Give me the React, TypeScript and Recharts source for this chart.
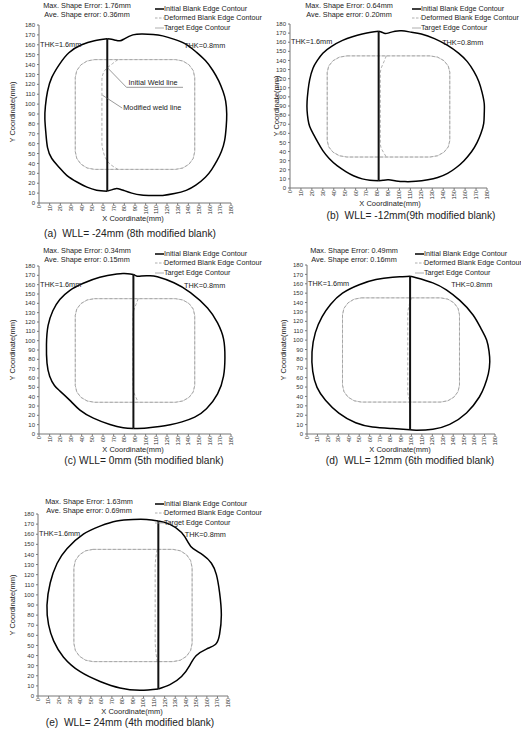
import React from "react";
import { ScatterChart, Scatter, XAxis, YAxis } from "recharts";

type Pt = [number, number];

// tick values shared by both axes of every panel
const axisTicks = [0, 10, 20, 30, 40, 50, 60, 70, 80, 90, 100, 110, 120, 130, 140, 150, 160, 170, 180];

// target edge contour (same target part for every blank)
const targetContour: Pt[] = [
  [52, 145], [128, 145], [134.9, 143.6], [140.7, 139.7], [144.6, 133.9], [146, 127],
  [146, 52], [144.6, 45.1], [140.7, 39.3], [134.9, 35.4], [128, 34],
  [52, 34], [45.1, 35.4], [39.3, 39.3], [35.4, 45.1], [34, 52],
  [34, 127], [35.4, 133.9], [39.3, 139.7], [45.1, 143.6], [52, 145],
];

// (a) WLL = -24mm
const weldA: Pt[] = [[64, 166], [64, 12]];
const blankLeftA: Pt[] = [
  [64, 166], [52, 164], [40, 160], [28, 152], [19, 140], [12, 127], [8, 113], [6, 98], [5.5, 85],
  [6.5, 70], [8, 56], [12, 45], [19, 36], [26, 28], [36, 21], [45, 16], [54, 13], [64, 12],
];
const blankRightA: Pt[] = [
  [64, 166], [68, 165.5], [72, 164.5], [76, 164], [80, 166], [88, 170], [97, 171], [107, 170.5],
  [116, 169], [127, 165.5], [138, 160.5], [147, 153], [156, 144], [163, 134], [168.5, 123.5],
  [172.5, 113], [175, 103], [176, 90], [175.5, 77], [174, 63], [171, 52], [167, 43], [162, 34],
  [156, 26], [147, 18], [138, 12.8], [127, 9.5], [116, 7.7], [106, 7.5], [96, 8], [87, 10],
  [80, 12.5], [76, 14], [72, 14.5], [68, 13.3], [64, 12],
];
const deformedWeldA: Pt[] = [[74, 145], [69, 141], [61, 133], [59, 125], [59, 60], [60, 53], [66, 40], [74, 34]];
const initialPointerA: Pt[] = [[64, 137], [82, 117], [135, 117]];
const modifiedPointerA: Pt[] = [[59.5, 109], [78, 96]];

// (b) WLL = -12mm
const weldB: Pt[] = [[81, 172], [81, 8]];
const blankLeftB: Pt[] = [
  [81, 172], [74, 171], [66, 169], [57, 166], [48, 162], [38, 155.5], [30, 148], [25, 140],
  [21, 131.5], [18, 119], [16.5, 107], [15.6, 95], [15.6, 85], [16.5, 75], [18, 67.5], [21, 60],
  [25.5, 50], [30, 41], [36, 32], [43, 24.5], [51, 18], [58, 13.5], [66, 10], [73, 8.5], [81, 8],
];
const blankRightB: Pt[] = [
  [81, 172], [84, 171], [87, 169.5], [91, 170.5], [96, 172], [102, 172.5], [111, 171], [120, 169],
  [132, 164], [144, 156.5], [154, 148], [162, 138.7], [168, 128], [172.5, 117], [175.5, 105],
  [177.5, 92.5], [177.5, 82], [177, 71], [174.5, 60], [171, 50], [166, 40], [159, 30], [152, 22.5],
  [144, 16], [135, 11.5], [126, 9], [115, 7.3], [105, 7], [97, 7.8], [90, 9], [85, 8.5], [81, 8],
];
const deformedWeldB: Pt[] = [[88, 145], [86, 139], [83.5, 132], [82.5, 126], [82.5, 50], [83, 45], [86, 38], [88, 34]];

// (c) WLL = 0mm
const weldC: Pt[] = [[88.5, 171], [88.5, 6]];
const blankLeftC: Pt[] = [
  [88.5, 171], [80, 172], [73, 171.5], [57, 168], [41.5, 161.5], [29, 154], [19.5, 144], [13, 132],
  [8.5, 116], [7, 96], [7.5, 76], [10, 62], [14.5, 52], [19.7, 46], [29, 36], [38.4, 25.6],
  [51, 17], [66.5, 10.2], [79, 6.8], [88.5, 6],
];
const blankRightC: Pt[] = [
  [88.5, 171], [92, 169], [96, 169.3], [103, 169.5], [111, 168.5], [126.5, 162], [142, 151.5], [158, 135],
  [167.4, 119], [173, 102], [174.3, 82], [173, 62], [167.4, 43], [157, 27], [146, 18], [134, 13],
  [123, 10], [113, 8], [101, 6.5], [88.5, 6],
];
const deformedWeldC: Pt[] = [[93, 145], [91, 139], [88.5, 131], [88, 125], [88, 52], [88.5, 46], [91, 39], [93, 34]];

// (d) WLL = 12mm
const weldD: Pt[] = [[98.7, 168], [98.7, 4.5]];
const blankLeftD: Pt[] = [
  [98.7, 168], [90, 167.5], [82, 167], [66, 164.5], [50, 159], [34, 150], [22.5, 138],
  [14.5, 125], [8, 108], [4.8, 87.4], [5.5, 66.8], [9.6, 49.7], [17.7, 36], [30.5, 22.3],
  [46.6, 12], [62.7, 7.5], [82, 5.8], [98.7, 4.5],
];
const blankRightD: Pt[] = [
  [98.7, 168], [104.5, 166.5], [120.5, 161], [133.4, 153.5], [146.3, 142.3], [159, 126.8],
  [167, 111.4], [172, 100], [174.3, 88], [175, 77], [173.6, 64], [170, 51], [165, 39.4],
  [152.7, 22.3], [136.6, 10.3], [120.5, 5.1], [104.5, 4.1], [98.7, 4.5],
];
const deformedWeldD: Pt[] = [[100, 145], [98, 138], [96.5, 128], [96.5, 45], [97.5, 38], [99, 34]];

// (e) WLL = 24mm
const weldE: Pt[] = [[114, 173], [114, 7]];
const blankLeftE: Pt[] = [
  [114, 173], [103, 174.6], [90, 174.6], [74.6, 173], [58.8, 168], [43, 160], [27.4, 145.7],
  [18, 131], [11.6, 112], [8.5, 89.7], [10, 70.5], [14.8, 54.5], [24.2, 38.4], [40, 24],
  [58.8, 14.4], [77.7, 8], [96.6, 5.8], [114, 7],
];
const blankRightE: Pt[] = [
  [114, 173], [125, 169.8], [136, 161.8], [142.2, 152], [147, 145.7], [156.4, 139.3],
  [164.3, 131.3], [169, 120], [172, 102.5], [173.7, 80], [172, 61], [168.3, 51.2], [159.5, 46.4],
  [150, 40], [143.8, 30.4], [136, 19.2], [125, 11.2], [114, 7],
];
const deformedWeldE: Pt[] = [[113, 145], [111.5, 136], [111, 128], [111, 55], [111.5, 45], [113, 34]];

const maxErrors = ["1.76mm", "0.64mm", "0.34mm", "0.49mm", "1.63mm"];
const aveErrors = ["0.36mm", "0.20mm", "0.15mm", "0.16mm", "0.69mm"];
const captions = [
  "(a)  WLL= -24mm (8th modified blank)",
  "(b)  WLL= -12mm(9th modified blank)",
  "(c) WLL= 0mm (5th modified blank)",
  "(d)  WLL= 12mm (6th modified blank)",
  "(e)  WLL= 24mm (4th modified blank)",
];
const legendLabels = ["Initial Blank Edge Contour", "Deformed Blank Edge Contour", "Target Edge Contour"];

const FONT = '"Liberation Sans", Arial, Helvetica, sans-serif';
const toData = (pts: Pt[]) => pts.map(([x, y]) => ({ x, y }));
const noDot = () => <g />;

const layouts = [
  { plot: { left: 39, top: 25, w: 192, h: 178 }, head: { x: 87, y: 6 }, legend: { x: 155, y: 9 }, xlab: { x: 133, y: 219 }, cap: { x: 130, y: 234 }, ylab: { x: 12, y: 112 } },
  { plot: { left: 290, top: 24, w: 197, h: 164 }, head: { x: 349, y: 6 }, legend: { x: 412, y: 9 }, xlab: { x: 390, y: 204 }, cap: { x: 411, y: 216 }, ylab: { x: 276, y: 106 } },
  { plot: { left: 39, top: 266, w: 192, h: 168 }, head: { x: 87, y: 251 }, legend: { x: 155, y: 254 }, xlab: { x: 133, y: 450 }, cap: { x: 144, y: 461 }, ylab: { x: 12, y: 350 } },
  { plot: { left: 307, top: 265, w: 188, h: 169 }, head: { x: 354, y: 251 }, legend: { x: 415, y: 254 }, xlab: { x: 400, y: 450 }, cap: { x: 410, y: 461 }, ylab: { x: 283, y: 350 } },
  { plot: { left: 38, top: 514, w: 190, h: 182 }, head: { x: 89, y: 502 }, legend: { x: 155, y: 504 }, xlab: { x: 132, y: 712 }, cap: { x: 130, y: 723 }, ylab: { x: 12, y: 605 } },
];

const series = [
  { left: blankLeftA, right: blankRightA, weld: weldA, dweld: deformedWeldA },
  { left: blankLeftB, right: blankRightB, weld: weldB, dweld: deformedWeldB },
  { left: blankLeftC, right: blankRightC, weld: weldC, dweld: deformedWeldC },
  { left: blankLeftD, right: blankRightD, weld: weldD, dweld: deformedWeldD },
  { left: blankLeftE, right: blankRightE, weld: weldE, dweld: deformedWeldE },
];

function XTick(props: any) {
  const { x, y, payload } = props;
  const ty = y - 2;
  return (
    <text x={x} y={ty} transform={`rotate(-90 ${x} ${ty})`} textAnchor="end" dy="0.33em" fontSize={5.7} fill="#333" fontFamily={FONT}>
      {payload.value}
    </text>
  );
}

function Txt({ x, y, size, children, center = false, color = "#222" }: any) {
  return (
    <div
      style={{
        position: "absolute", left: x, top: y, fontSize: size, lineHeight: `${size}px`, color,
        fontFamily: FONT, whiteSpace: "pre",
        transform: center ? "translate(-50%, -50%)" : "translateY(-50%)",
      }}
    >
      {children}
    </div>
  );
}

function Legend({ x, y }: { x: number; y: number }) {
  const styles = [
    { stroke: "#111", strokeWidth: 1.6, dash: undefined },
    { stroke: "#999", strokeWidth: 0.8, dash: "2.5 1.5" },
    { stroke: "#999", strokeWidth: 0.8, dash: undefined },
  ];
  return (
    <>
      {legendLabels.map((l, i) => (
        <div key={l} style={{ position: "absolute", left: x, top: y + i * 9.3 - 4 }}>
          <svg width={9} height={8} style={{ position: "absolute", left: 0, top: 0 }}>
            <line x1={0} x2={9} y1={4} y2={4} stroke={styles[i].stroke} strokeWidth={styles[i].strokeWidth} strokeDasharray={styles[i].dash} />
          </svg>
          <div style={{ position: "absolute", left: 9, top: 0, fontSize: 7.2, lineHeight: "8px", color: "#222", fontFamily: FONT, whiteSpace: "nowrap" }}>{l}</div>
        </div>
      ))}
    </>
  );
}

function Panel({ idx }: { idx: number }) {
  const lay = layouts[idx];
  const s = series[idx];
  const { plot } = lay;
  const yW = 20, xH = 14, mT = 4, mR = 6;
  const W = yW + plot.w + mR;
  const H = mT + plot.h + xH;
  const px = (v: number) => plot.left + (v / 180) * plot.w;
  const py = (v: number) => plot.top + plot.h - (v / 180) * plot.h;
  const thkRightX = [136, 139, 136, 138, 139][idx];
  return (
    <>
      <div style={{ position: "absolute", left: plot.left - yW, top: plot.top - mT }}>
        <ScatterChart width={W} height={H} margin={{ top: mT, right: mR, left: 0, bottom: 0 }}>
          <XAxis type="number" dataKey="x" domain={[0, 180]} ticks={axisTicks} interval={0} height={xH} tick={<XTick />} tickSize={2} stroke="#777" />
          <YAxis type="number" dataKey="y" domain={[0, 180]} ticks={axisTicks} interval={0} width={yW} tickSize={2} stroke="#777" tick={{ fontSize: 6, fill: "#333", fontFamily: FONT }} />
          <Scatter data={toData(targetContour)} fill="#ccc" line={{ stroke: "#c4c4c4", strokeWidth: 0.8 }} shape={noDot} isAnimationActive={false} />
          <Scatter data={toData(targetContour)} fill="#999" line={{ stroke: "#9a9a9a", strokeWidth: 0.8, strokeDasharray: "3 2" }} shape={noDot} isAnimationActive={false} />
          <Scatter data={toData(s.dweld)} fill="#999" line={{ stroke: "#9a9a9a", strokeWidth: 0.8, strokeDasharray: "3 2" }} lineJointType="monotoneY" shape={noDot} isAnimationActive={false} />
          <Scatter data={toData(s.left)} fill="#000" line={{ stroke: "#000", strokeWidth: 1.5 }} lineJointType="natural" shape={noDot} isAnimationActive={false} />
          <Scatter data={toData(s.right)} fill="#000" line={{ stroke: "#000", strokeWidth: 1.5 }} lineJointType="natural" shape={noDot} isAnimationActive={false} />
          <Scatter data={toData(s.weld)} fill="#111" line={{ stroke: "#111", strokeWidth: 2 }} shape={noDot} isAnimationActive={false} />
          {idx === 0 && (
            <Scatter data={toData(initialPointerA)} fill="#555" line={{ stroke: "#555", strokeWidth: 0.6 }} shape={noDot} isAnimationActive={false} />
          )}
          {idx === 0 && (
            <Scatter data={toData(modifiedPointerA)} fill="#555" line={{ stroke: "#555", strokeWidth: 0.6 }} shape={noDot} isAnimationActive={false} />
          )}
        </ScatterChart>
      </div>
      <Txt x={lay.head.x} y={lay.head.y} size={7.3} center>{`Max. Shape Error: ${maxErrors[idx]}`}</Txt>
      <Txt x={lay.head.x} y={lay.head.y + 9} size={7.3} center>{`Ave. Shape error: ${aveErrors[idx]}`}</Txt>
      <Legend x={lay.legend.x} y={lay.legend.y} />
      <Txt x={px(1)} y={py(160)} size={7.3}>THK=1.6mm</Txt>
      <Txt x={px(thkRightX)} y={py(159)} size={7.3}>THK=0.8mm</Txt>
      {idx === 0 && <Txt x={px(84)} y={py(121)} size={7.3}>Initial Weld line</Txt>}
      {idx === 0 && <Txt x={px(79)} y={py(96)} size={7.3}>Modified weld line</Txt>}
      <Txt x={lay.xlab.x} y={lay.xlab.y} size={7.5} center>X Coordinate(mm)</Txt>
      <Txt x={lay.cap.x} y={lay.cap.y} size={10.2} center>{captions[idx]}</Txt>
      <div
        style={{
          position: "absolute", left: lay.ylab.x, top: lay.ylab.y, fontSize: 7.5, color: "#222", fontFamily: FONT,
          whiteSpace: "nowrap", transform: "translate(-50%, -50%) rotate(-90deg)",
        }}
      >
        Y Coordinate(mm)
      </div>
    </>
  );
}

export default function App() {
  return (
    <div style={{ position: "absolute", left: 0, top: 0, width: 521, height: 734, background: "#fff", overflow: "hidden" }}>
      {[0, 1, 2, 3, 4].map((i) => (
        <Panel key={i} idx={i} />
      ))}
    </div>
  );
}
